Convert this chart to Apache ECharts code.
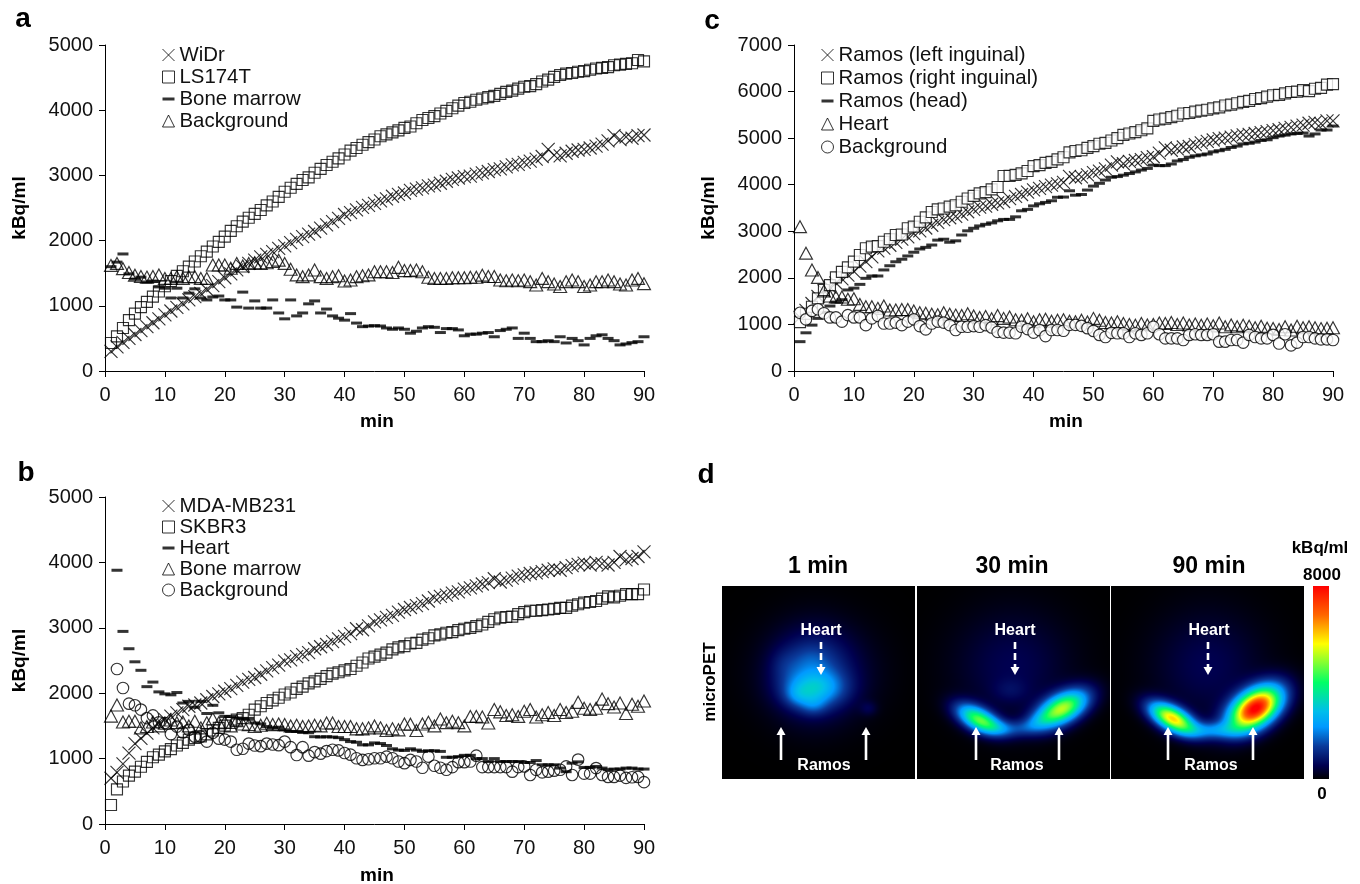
<!DOCTYPE html>
<html><head><meta charset="utf-8">
<style>html,body{margin:0;padding:0;background:#fff}#c{width:1360px;height:884px}</style>
<script src="https://cdn.jsdelivr.net/npm/echarts@6/dist/echarts.min.js"></script>
</head><body><div id="c"></div>
<script>
const minutes=[1,2,3,4,5,6,7,8,9,10,11,12,13,14,15,16,17,18,19,20,21,22,23,24,25,26,27,28,29,30,31,32,33,34,35,36,37,38,39,40,41,42,43,44,45,46,47,48,49,50,51,52,53,54,55,56,57,58,59,60,61,62,63,64,65,66,67,68,69,70,71,72,73,74,75,76,77,78,79,80,81,82,83,84,85,86,87,88,89,90];

// Panel a
const aWiDr=[300,370,440,500,560,620,680,740,800,860,920,975,1030,1090,1140,1190,1250,1310,1370,1430,1490,1550,1600,1650,1700,1750,1790,1830,1880,1920,1970,2020,2060,2100,2140,2190,2240,2290,2340,2400,2430,2470,2510,2540,2570,2610,2640,2680,2710,2730,2770,2790,2810,2840,2850,2880,2910,2940,2960,2980,2990,3020,3040,3060,3090,3100,3130,3160,3170,3200,3220,3250,3290,3400,3310,3300,3340,3370,3390,3400,3420,3450,3480,3530,3610,3550,3590,3570,3610,3620];
const aLS=[430,530,660,780,880,980,1060,1140,1220,1300,1380,1460,1530,1600,1680,1760,1830,1910,1980,2060,2150,2220,2290,2350,2410,2470,2540,2600,2670,2750,2810,2870,2930,2970,3040,3100,3160,3210,3260,3320,3380,3420,3470,3510,3550,3600,3630,3660,3690,3730,3750,3800,3850,3880,3910,3950,3990,4030,4070,4110,4130,4160,4180,4200,4220,4250,4280,4300,4330,4360,4370,4400,4440,4470,4510,4540,4560,4570,4590,4600,4620,4640,4650,4660,4690,4700,4710,4720,4770,4750];
const aMarrow=[1600,1670,1795,1490,1410,1440,1365,1380,1290,1270,1120,1270,1120,1195,1260,1120,1090,1135,1150,1090,1090,980,1210,965,1075,965,965,1090,890,800,1090,845,890,1030,1075,890,950,845,810,780,880,735,680,690,695,690,660,640,660,640,580,610,660,680,670,590,650,650,630,540,565,565,580,590,525,620,640,660,500,580,500,450,450,465,450,525,430,500,465,400,500,540,555,500,465,400,415,435,450,525];
const aBack=[1620,1650,1570,1510,1470,1450,1440,1450,1474,1420,1420,1447,1420,1447,1447,1420,1420,1626,1626,1626,1575,1650,1610,1650,1660,1650,1660,1680,1700,1650,1560,1474,1447,1474,1550,1447,1420,1447,1460,1380,1396,1447,1460,1474,1523,1523,1523,1510,1590,1540,1540,1550,1523,1437,1420,1420,1420,1430,1430,1430,1437,1437,1470,1450,1450,1395,1385,1395,1385,1395,1370,1320,1420,1370,1335,1295,1370,1395,1370,1295,1320,1370,1370,1395,1370,1335,1320,1395,1420,1340];

// Panel b
const bMDA=[700,790,920,1085,1230,1310,1390,1470,1540,1600,1650,1700,1750,1800,1820,1850,1900,1950,1990,2030,2070,2120,2170,2210,2240,2290,2340,2390,2430,2490,2510,2560,2590,2620,2680,2710,2745,2790,2830,2870,2910,2985,2970,3030,3090,3120,3160,3190,3240,3280,3310,3340,3370,3410,3460,3480,3500,3530,3550,3590,3610,3640,3670,3690,3750,3700,3730,3760,3790,3810,3830,3840,3860,3880,3900,3880,3920,3950,3970,3990,3960,4000,3980,3960,4000,4090,4040,4060,4090,4160];
const bSK=[290,530,650,740,800,875,950,1020,1060,1110,1145,1200,1240,1290,1315,1340,1370,1430,1470,1505,1545,1595,1620,1670,1750,1800,1850,1890,1930,1980,2010,2065,2100,2150,2180,2220,2260,2300,2320,2350,2370,2420,2470,2530,2560,2590,2620,2670,2700,2720,2760,2770,2820,2840,2885,2900,2925,2935,2965,2985,3000,3025,3050,3090,3130,3155,3165,3170,3210,3240,3260,3260,3270,3280,3290,3305,3305,3340,3360,3385,3395,3410,3445,3480,3465,3490,3515,3515,3515,3585];
const bHeart=[null,3880,2945,2680,2480,2350,2100,2170,2020,1990,1975,2010,1850,1875,1785,1875,1690,1815,1700,1645,1645,1620,1610,1615,1545,1530,1490,1470,1480,1440,1415,1415,1400,1395,1335,1330,1335,1330,1320,1290,1260,1250,1210,1210,1240,1230,1200,1150,1130,1125,1150,1130,1110,1120,1120,1110,1020,1020,1030,1050,1050,1000,1000,955,1000,955,955,955,955,940,940,970,905,905,905,855,800,930,950,865,865,880,855,830,840,840,855,855,840,840];
const bMarrow=[1650,1820,1560,1570,1570,1470,1490,1560,1500,1540,1590,1550,1560,1500,1570,1470,1550,1610,1550,1560,1500,1580,1530,1520,1490,1510,1540,1520,1530,1520,1500,1510,1490,1500,1510,1500,1545,1545,1490,1490,1490,1455,1455,1470,1500,1470,1430,1455,1440,1530,1525,1430,1530,1555,1500,1605,1550,1570,1550,1500,1645,1645,1635,1545,1750,1715,1660,1670,1645,1725,1750,1635,1670,1705,1660,1750,1705,1725,1860,1770,1750,1770,1910,1840,1790,1850,1690,1830,1800,1880];
const bBack=[null,2370,2080,1840,1815,1750,1620,1660,1555,1545,1375,1490,1400,1440,1335,1335,1260,1395,1305,1290,1260,1135,1150,1230,1200,1190,1230,1215,1205,1260,1175,1055,1175,1045,1100,1075,1115,1135,1125,1085,1060,1005,980,990,1005,1005,1030,1005,955,930,980,955,860,1030,890,860,830,870,945,945,955,1045,870,870,870,870,870,800,870,880,750,830,790,800,815,830,880,750,985,770,770,855,750,720,720,740,705,715,720,640];

// Panel c
const cLeft=[1150,1300,1450,1600,1720,1800,1890,1980,2060,2140,2250,2350,2450,2580,2640,2700,2760,2830,2880,2950,3010,3070,3130,3190,3250,3290,3320,3370,3420,3470,3520,3540,3580,3610,3640,3700,3750,3790,3840,3890,3920,3960,3990,4020,4050,4180,4150,4170,4210,4260,4290,4340,4420,4490,4450,4500,4520,4540,4580,4600,4680,4790,4740,4770,4810,4820,4860,4900,4930,4960,4990,5000,5020,5050,5070,5080,5100,5120,5140,5160,5180,5210,5230,5260,5280,5320,5340,5310,5370,5370];
const cRight=[1050,1230,1380,1560,1740,1845,2010,2130,2225,2350,2490,2635,2670,2680,2775,2830,2920,2930,3065,3100,3205,3300,3415,3470,3490,3530,3560,3635,3705,3760,3815,3840,3900,3950,4187,4190,4210,4245,4295,4400,4420,4470,4490,4545,4590,4695,4725,4740,4790,4830,4880,4900,4950,5000,5070,5100,5130,5170,5210,5370,5400,5420,5450,5480,5530,5540,5570,5590,5610,5640,5660,5700,5720,5750,5780,5800,5840,5860,5890,5920,5930,5960,5990,6000,6030,6010,6060,6080,6150,6160];
const cHead=[630,820,985,1130,1260,1395,1480,1530,1740,1780,1860,1990,2040,2040,2170,2260,2345,2400,2470,2550,2620,2655,2705,2810,2830,2765,2795,2920,3010,3065,3115,3150,3180,3225,3255,3255,3310,3440,3470,3545,3590,3620,3655,3730,3735,3870,3775,3790,3885,3970,4030,4100,4160,4175,4205,4240,4275,4315,4350,4420,4410,4410,4445,4510,4540,4590,4620,4640,4660,4705,4730,4760,4800,4830,4875,4890,4915,4950,4965,5010,5045,5065,5090,5100,5110,5045,5090,5175,5175,5260];
const cHeart=[3100,2530,2170,2010,1720,1610,1590,1590,1540,1550,1430,1380,1380,1345,1395,1310,1310,1320,1320,1290,1250,1240,1220,1210,1250,1220,1200,1190,1230,1180,1150,1170,1120,1190,1130,1160,1100,1090,1120,1060,1100,1110,1070,1090,1100,1070,1060,1090,1050,1130,1090,1040,1030,1060,1020,1000,980,1020,990,1000,1030,1020,1040,1000,1030,990,1010,980,1010,970,1030,950,990,950,980,960,930,960,920,915,890,950,880,960,930,950,930,910,920,930];
const cBack=[1250,1110,1290,1325,1240,1150,1150,1060,1200,1150,1150,985,1130,1185,1020,1020,1040,985,1060,1110,965,895,1020,1060,1040,985,880,950,950,965,950,985,935,840,825,825,810,950,900,825,880,750,880,880,865,990,990,970,920,860,775,730,820,810,810,730,810,775,810,950,790,700,700,700,665,775,790,775,775,790,630,630,665,665,610,775,730,700,700,775,590,790,550,610,730,730,700,680,680,665];

const yTicksAB=[0,5000,1000], yTicksC=[0,7000,1000];
const FONT='"Liberation Sans", Arial, sans-serif';
const chart=echarts.init(document.getElementById('c'),null,{renderer:'canvas'});

const X='path://M0 0L10 10M10 0L0 10', D='path://M0 0H12V3H0Z';
const SW=1.15;
const hollow={color:'transparent',borderColor:'#000',borderWidth:SW};
const white={color:'#fff',borderColor:'#000',borderWidth:SW};
const K={
 x:{symbol:X,symbolSize:13,itemStyle:{color:'transparent',borderColor:'#000',borderWidth:SW},icon:X},
 s:{symbol:'rect',symbolSize:11,itemStyle:hollow,icon:'rect'},
 d:{symbol:'rect',symbolSize:[11,3],itemStyle:{color:'#000',borderWidth:0},icon:D},
 t:{symbol:'triangle',symbolSize:[13,12],itemStyle:hollow,icon:'triangle'},
 c:{symbol:'circle',symbolSize:11.5,itemStyle:hollow,icon:'circle'}
};
function xy(vals){return minutes.map((m,i)=>[m,vals[i]]);}
function panel(idx,defs,fill){
 return defs.map(([name,vals,k])=>({
  type:'scatter',name,xAxisIndex:idx,yAxisIndex:idx,data:xy(vals).filter(p=>p[1]!=null),
  symbol:K[k].symbol,symbolSize:K[k].symbolSize,symbolKeepAspect:false,
  itemStyle:(fill&&(k==='s'||k==='c'))?white:K[k].itemStyle,silent:true,animation:false,emphasis:{disabled:true}
 }));
}
const panelA=[['WiDr',aWiDr,'x'],['LS174T',aLS,'s'],['Bone marrow',aMarrow,'d'],['Background',aBack,'t']];
const panelB=[['MDA-MB231',bMDA,'x'],['SKBR3',bSK,'s'],['Heart',bHeart,'d'],['Bone marrow',bMarrow,'t'],['Background',bBack,'c']];
const panelC=[['Ramos (left inguinal)',cLeft,'x'],['Ramos (right inguinal)',cRight,'s'],['Ramos (head)',cHead,'d'],['Heart',cHeart,'t'],['Background',cBack,'c']];

function legend(defs,left,top,gap){
 return {left,top,orient:'vertical',itemGap:gap,itemWidth:12,itemHeight:12,selectedMode:false,padding:0,
  textStyle:{fontFamily:FONT,fontSize:20.4,color:'#111'},
  data:defs.map(([name,,k])=>({name,icon:K[k].icon,itemStyle:k==='d'?{color:'#000',borderWidth:0}:{color:'transparent',borderColor:'#000',borderWidth:1}}))};
}
function xAx(i,gap){return {type:'value',gridIndex:i,min:0,max:90,interval:10,name:'min',nameLocation:'middle',nameGap:gap,
 nameTextStyle:{fontFamily:FONT,fontWeight:'bold',fontSize:19,color:'#000',padding:[0,0,0,5]},
 axisLine:{show:true,lineStyle:{color:'#000',width:1}},axisTick:{show:true,length:6,inside:false,lineStyle:{color:'#000'}},
 axisLabel:{fontFamily:FONT,fontSize:20,color:'#111',margin:14,formatter:v=>String(v)},splitLine:{show:false}};}
function yAx(i,t){return {type:'value',gridIndex:i,min:t[0],max:t[1],interval:t[2],name:'kBq/ml',nameLocation:'middle',nameGap:76,nameRotate:90,
 nameTextStyle:{fontFamily:FONT,fontWeight:'bold',fontSize:19,color:'#000'},
 axisLine:{show:true,lineStyle:{color:'#000',width:1}},axisTick:{show:true,length:6,inside:false,lineStyle:{color:'#000'}},
 axisLabel:{fontFamily:FONT,fontSize:20,color:'#111',margin:12,formatter:v=>String(v)},splitLine:{show:false}};}

// Panel d: microPET images, painted from hot-spots
const jet=[[0,[0,0,0]],[.07,[0,0,80]],[.17,[10,58,154]],[.27,[0,153,255]],[.35,[0,190,235]],[.5,[0,255,102]],[.7,[255,255,0]],[.85,[255,102,0]],[1,[255,0,0]]];
function jetRGB(l){l=Math.max(0,Math.min(1,l));for(let i=1;i<jet.length;i++){if(l<=jet[i][0]){const p=jet[i-1],q=jet[i],f=(l-p[0])/(q[0]-p[0]);return p[1].map((v,j)=>Math.round(v+(q[1][j]-v)*f));}}return [255,0,0];}
function rgb(l){const c=jetRGB(l);return `rgb(${c[0]},${c[1]},${c[2]})`;}
// [centre x, centre y, spread along, spread across, tilt (deg, + rises to the right), strength] in image pixels
const pet1=[[96,84,38,34,0,.07],[90,88,25,27,0,.13],[61,78,10,11,0,.035],[88,72,13,10,0,.03],[93,102,20,12,0,.2],[75,109,9,8,0,.08],[91,119,9,7,0,.08],[146,122,6,5,0,.05]];
const pet2=[[95,79,40,38,0,.07],[60,132,16,8,-27,.48],[74,139,14,6,-18,.12],[145,122,19,10,28,.62],[122,134,12,6,20,.1],[97,142,20,6,0,.12],[93,104,12,8,0,.04]];
const pet3=[[96,79,38,38,0,.07],[61,132,17,8,-28,.72],[144,122,20,12,35,1.0],[101,144,20,6,0,.2]];
function petCanvas(spots){
 const N=193,cv=document.createElement('canvas');cv.width=N;cv.height=N;
 const g=cv.getContext('2d'),im=g.createImageData(N,N);
 for(let y=0;y<N;y++)for(let x=0;x<N;x++){
  let v=0;
  for(const [cx,cy,a,b,deg,amp] of spots){
   const r=deg*Math.PI/180,dx=x-cx,dy=y-cy,u=dx*Math.cos(r)-dy*Math.sin(r),w=dx*Math.sin(r)+dy*Math.cos(r);
   v+=amp*Math.exp(-(u*u/(2*a*a)+w*w/(2*b*b)));
  }
  const c=jetRGB(v),o=(y*N+x)*4;im.data[o]=c[0];im.data[o+1]=c[1];im.data[o+2]=c[2];im.data[o+3]=255;
 }
 g.putImageData(im,0,0);return cv;
}
function pet(spots,x){return {type:'image',silent:true,x,y:586,style:{image:petCanvas(spots),x:0,y:0,width:193,height:193}};}
function txt(t,x,y,size,color,opt){return Object.assign({type:'text',x,y,silent:true,style:{text:t,fontFamily:FONT,fontWeight:'bold',fontSize:size,fill:color,align:'center',verticalAlign:'middle'}},opt||{});}
function arrow(x,y1,y2,dashed){
 const dir=y2>y1?1:-1;
 return [{type:'line',silent:true,shape:{x1:x,y1:y1,x2:x,y2:y2-dir*6},style:{stroke:'#fff',lineWidth:2.6,lineDash:dashed?[7,4]:null}},
  {type:'polygon',silent:true,shape:{points:[[x-4.5,y2-dir*8],[x+4.5,y2-dir*8],[x,y2]]},style:{fill:'#fff'}}];
}
const gfx=[
 txt('a',23,19,28,'#000'),txt('b',26,473,28,'#000'),txt('c',712,21,28,'#000'),txt('d',706,475,28,'#000'),
 pet(pet1,722),pet(pet2,917),pet(pet3,1111),
 {type:'rect',silent:true,shape:{x:1313,y:586,width:16,height:193},style:{fill:new echarts.graphic.LinearGradient(0,1,0,0,jet.map(s=>({offset:s[0],color:rgb(s[0])})))}},
 ...arrow(781,760,727),...arrow(866,760,727),...arrow(821,642,675,true),
 ...arrow(976,760,727),...arrow(1059,760,727),...arrow(1015,642,675,true),
 ...arrow(1168,760,727),...arrow(1253,760,727),...arrow(1208,642,675,true),
 txt('Heart',821,631,16,'#fff'),txt('Ramos',824,766,16,'#fff'),
 txt('Heart',1015,631,16,'#fff'),txt('Ramos',1017,766,16,'#fff'),
 txt('Heart',1209,631,16,'#fff'),txt('Ramos',1211,766,16,'#fff'),
 txt('1 min',818,567,23,'#000'),txt('30 min',1012,567,23,'#000'),txt('90 min',1209,567,23,'#000'),
 txt('microPET',710,682,17,'#000',{rotation:Math.PI/2}),
 txt('kBq/ml',1320,548,17,'#000'),txt('8000',1322,575,17,'#000'),txt('0',1322,794,17,'#000')
];

const gridBase={outerBoundsMode:'none',containLabel:false};
chart.setOption({
 animation:false,backgroundColor:'#fff',
 grid:[Object.assign({left:105,top:45,width:539,height:326},gridBase),Object.assign({left:105,top:497,width:539,height:327},gridBase),Object.assign({left:794,top:45,width:539,height:326},gridBase)],
 xAxis:[xAx(0,41),xAx(1,42),xAx(2,41)],
 yAxis:[yAx(0,yTicksAB),yAx(1,yTicksAB),yAx(2,yTicksC)],
 legend:[legend(panelA,162,45,2),legend(panelB,162,496,1),legend(panelC,821,45,3)],
 series:[...panel(0,panelA,false),...panel(1,panelB,false),...panel(2,panelC,true)],
 graphic:{elements:gfx}
});
</script></body></html>
